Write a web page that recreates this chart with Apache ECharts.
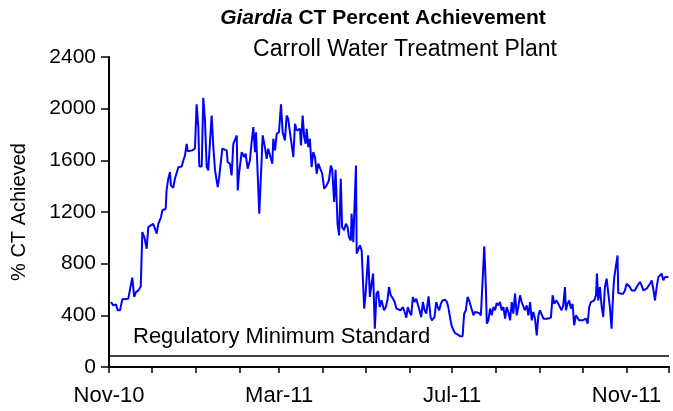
<!DOCTYPE html>
<html>
<head>
<meta charset="utf-8">
<script src="https://cdn.jsdelivr.net/npm/echarts@6/dist/echarts.min.js"></script>
<style>
  html, body { margin: 0; padding: 0; background: #fff; }
  #main { width: 673px; height: 411px; }
</style>
</head>
<body>
<div id="main"></div>
<script>
// days counted from 1 Nov 2010
const days = [
  1.4, 3.0, 4.9, 6.1, 7.8, 9.4, 13.6, 14.8, 16.4, 17.8, 19.0, 20.7, 22.4, 23.5, 24.9, 26.6, 27.7, 28.9,
  31.2, 32.4, 33.6, 34.8, 36.7, 37.6, 39.0, 40.0, 40.6, 41.8, 43.0, 43.7, 45.3, 46.5, 48.9, 51.3, 52.4,
  53.6, 54.8, 55.5, 58.7, 60.6, 61.8, 63.0, 63.7, 65.4, 66.5, 67.7, 68.9, 70.0, 71.2, 72.4, 73.6, 74.8,
  76.7, 77.6, 79.0, 79.9, 81.3, 83.0, 83.7, 85.3, 86.5, 87.7, 90.1, 90.8, 91.7, 93.1, 93.6, 95.4, 96.4,
  97.8, 99.4, 100.6, 101.8, 103.0, 103.7, 104.6, 106.0, 107.2, 108.4, 110.0, 111.2, 112.3, 113.5, 115.2,
  115.9, 117.1, 118.3, 119.9, 121.3, 122.5, 124.1, 125.3, 126.4, 127.6, 128.8, 130.0, 131.2, 132.4, 133.5,
  134.7, 135.4, 136.6, 137.7, 138.7, 139.4, 140.6, 141.7, 142.9, 144.1, 145.3, 146.5, 147.6, 149.5, 150.4,
  151.8, 153.5, 155.1, 156.5, 157.4, 158.8, 159.8, 160.7, 161.2, 162.3, 163.5, 164.4, 165.8, 167.1, 168.3,
  169.2, 170.6, 171.1, 172.3, 173.0, 174.2, 174.7, 175.8, 177.0, 178.2, 180.0, 181.0, 181.7, 182.8, 184.0,
  185.2, 186.3, 187.5, 188.7, 189.8, 191.0, 192.2, 193.3, 194.0, 195.2, 196.4, 197.5, 198.7, 200.3, 201.5,
  202.7, 203.8, 205.6, 207.3, 208.5, 209.7, 210.8, 212.0, 213.2, 214.3, 215.5, 216.7, 217.8, 219.0, 220.2,
  221.4, 222.6, 223.8, 225.4, 226.8, 227.7, 229.6, 230.8, 231.9, 232.9, 234.1, 235.3, 237.0, 238.4, 239.5,
  240.7, 241.6, 242.8, 244.0, 245.8, 247.7, 249.4, 250.5, 251.7, 252.9, 254.1, 255.3, 257.1, 258.1, 259.5,
  261.1, 262.3, 263.5, 264.7, 265.8, 266.5, 267.6, 268.8, 270.0, 271.1, 272.3, 273.5, 274.6, 275.8, 277.0,
  278.2, 279.4, 280.5, 281.7, 282.9, 284.1, 285.2, 286.4, 287.6, 288.7, 289.9, 291.1, 292.3, 293.4, 294.6,
  295.8, 297.0, 298.2, 299.3, 300.5, 301.7, 302.9, 304.0, 305.2, 306.4, 307.6, 309.2, 310.4, 311.7, 312.9,
  314.1, 315.7, 316.9, 318.1, 319.2, 320.4, 321.6, 322.3, 323.4, 324.6, 325.8, 327.0, 328.1, 329.3, 330.5,
  331.7, 332.9, 334.0, 335.2, 336.4, 337.6, 338.7, 339.9, 341.1, 342.3, 343.5, 344.2, 345.1, 346.3, 347.4,
  348.6, 349.8, 351.0, 352.2, 353.3, 354.5, 355.7, 356.4, 357.6, 358.7, 359.2, 361.1, 362.7, 363.9, 365.1,
  366.3, 367.4, 368.6, 369.8, 371.0, 372.2, 373.3, 374.5, 375.7, 376.9, 378.0, 379.2, 380.4, 381.6, 382.8,
  383.9, 385.1, 386.3, 387.5, 388.7, 389.8, 391.0, 392.2, 393.4, 394.6
];
const ctPercent = [
  503, 477, 485, 439, 439, 524, 529, 542, 692, 542, 580, 593, 624, 1044, 1006, 916, 1083, 1096,
  1109, 1071, 1032, 1109, 1161, 1212, 1199, 1225, 1367, 1458, 1509, 1406, 1388, 1458, 1547, 1553, 1599,
  1638, 1728, 1671, 1677, 1690, 2033, 1857, 1553, 1553, 2084, 1909, 1547, 1522, 1509, 1947, 1702, 1522,
  1393, 1458, 1444, 1690, 1702, 1677, 1586, 1574, 1483, 1728, 1793, 1367, 1496, 1483, 1663, 1625, 1651,
  1535, 1599, 1741, 1857, 1663, 1818, 1818, 1187, 1199, 1793, 1702, 1612, 1690, 1677, 1574,
  1767, 1677, 1806, 1818, 2033, 1818, 1754, 1947, 1922, 1818, 1728, 1625, 1883, 1831, 1844,
  1844, 1715, 1947, 1780, 1728, 1844, 1702, 1767, 1547, 1663, 1625, 1496, 1574, 1522, 1496,
  1380, 1406, 1444, 1560, 1535, 1277, 1527, 1522, 1109, 1019, 1458, 1083, 1058, 1109, 1083,
  1006, 980, 1187, 967, 980, 1560, 877, 877, 942, 903, 452, 568, 555, 864, 542,
  645, 723, 297, 568, 588, 464, 516, 529, 439, 464, 516, 619, 555, 529, 503,
  452, 464, 439, 464, 426, 382, 464, 426, 400, 542, 503, 529, 485, 439, 387,
  503, 439, 413, 547, 387, 361, 387, 503, 464, 439, 490, 516, 521, 503, 452,
  374, 323, 289, 263, 253, 238, 238, 413, 439, 542, 511, 503, 400, 426, 413,
  418, 400, 400, 934, 619, 336, 361, 452, 400, 464, 439, 495, 477, 503, 439,
  464, 374, 464, 426, 361, 503, 413, 568, 400, 464, 555, 503, 516, 439, 477,
  400, 503, 361, 426, 374, 245, 400, 439, 439, 374, 387, 374, 380, 382, 555,
  490, 516, 529, 464, 439, 477, 619, 439, 490, 516, 452, 490, 323, 400, 413,
  361, 374, 361, 367, 374, 336, 464, 503, 490, 516, 555, 723, 516, 619, 477,
  387, 619, 684, 671, 464, 297, 593, 696, 709, 864, 573, 568, 568, 593, 645,
  632, 619, 593, 606, 593, 619, 606, 658, 632, 593, 593, 606, 619, 645, 671,
  606, 516, 619, 696, 709, 723, 671, 696, 684, 696
];
// month starts (days from 1 Nov 2010) for ticks, and the labelled ones
const monthStarts = [0, 30, 61, 92, 120, 151, 181, 212, 242, 273, 304, 334, 365, 395];
const labelDays = [0, 120, 242, 365];
const monthLabels = ['Nov-10', 'Mar-11', 'Jul-11', 'Nov-11'];
const regulatoryMin = 85;

const FONT = '"Liberation Sans", Arial, sans-serif';

var myChart = echarts.init(document.getElementById('main'));
myChart.setOption({
  animation: false,
  backgroundColor: '#fff',
  textStyle: { fontFamily: FONT, color: '#000' },
  graphic: [
    {
      type: 'text',
      x: 383,
      y: 8,
      style: {
        text: '{i|Giardia}{b| CT Percent Achievement}',
        textAlign: 'center',
        rich: {
          i: { fontFamily: FONT, fontSize: 21, fontWeight: 'bold', fontStyle: 'italic', fill: '#000' },
          b: { fontFamily: FONT, fontSize: 21, fontWeight: 'bold', fill: '#000' }
        }
      }
    },
    {
      type: 'text',
      x: 405,
      y: 38,
      style: { text: 'Carroll Water Treatment Plant', textAlign: 'center', fontFamily: FONT, fontSize: 23, fill: '#000' }
    },
    {
      type: 'text',
      x: 133,
      y: 326,
      style: { text: 'Regulatory Minimum Standard', fontFamily: FONT, fontSize: 22, fill: '#000' }
    }
  ],
  grid: { left: 109, right: 4, top: 57, bottom: 44, containLabel: false },
  xAxis: {
    type: 'value',
    min: 0,
    max: 395,
    axisLine: { show: true, lineStyle: { color: '#000', width: 2 } },
    axisTick: { show: true, length: 6, lineStyle: { color: '#000', width: 1.5 }, customValues: monthStarts },
    axisLabel: {
      customValues: labelDays,
      margin: 18,
      fontSize: 22,
      color: '#000',
      fontFamily: FONT,
      formatter: function (v) {
        var k = labelDays.indexOf(v);
        return k >= 0 ? monthLabels[k] : '';
      }
    },
    splitLine: { show: false }
  },
  yAxis: {
    type: 'value',
    min: 0,
    max: 2400,
    interval: 400,
    name: '% CT Achieved',
    nameLocation: 'middle',
    nameRotate: 90,
    nameGap: 80,
    nameTextStyle: { fontSize: 20, color: '#000', fontFamily: FONT },
    axisLine: { show: true, lineStyle: { color: '#000', width: 2 } },
    axisTick: { show: true, length: 8, lineStyle: { color: '#000', width: 1.5 } },
    axisLabel: {
      margin: 13,
      fontSize: 21,
      color: '#000',
      fontFamily: FONT,
      formatter: function (v) { return String(v); }
    },
    splitLine: { show: false }
  },
  series: [
    {
      name: '% CT Achieved',
      type: 'line',
      data: days.map(function (d, i) { return [d, ctPercent[i]]; }),
      showSymbol: false,
      lineStyle: { color: '#0000FF', width: 2 },
      itemStyle: { color: '#0000FF' },
      markLine: {
        silent: true,
        symbol: 'none',
        label: { show: false },
        lineStyle: { color: '#000', width: 1.5, type: 'solid' },
        data: [{ yAxis: regulatoryMin }]
      }
    }
  ]
});
</script>
</body>
</html>
